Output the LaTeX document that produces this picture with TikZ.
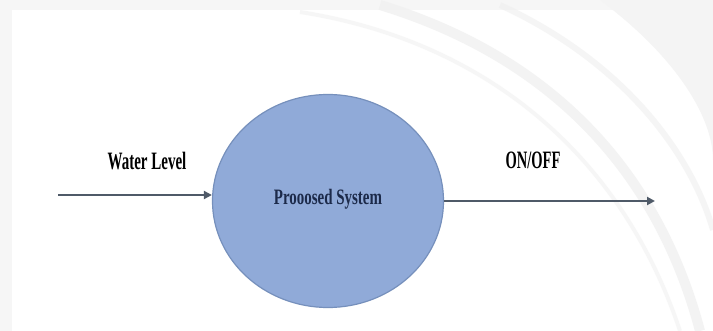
\documentclass[tikz,border=0pt]{standalone}
\usepackage{fontspec}
\setmainfont{Liberation Serif}
\usetikzlibrary{arrows.meta,shapes.geometric}
\definecolor{bgc}{HTML}{F6F6F6}
\definecolor{swoosh}{HTML}{EFEFEF}
\definecolor{ellfill}{HTML}{90AAD8}
\definecolor{elldraw}{HTML}{7690BC}
\definecolor{arrowc}{HTML}{4F5A68}
\definecolor{navy}{HTML}{1C2A4A}
\tikzset{
  procbox/.style={ellipse, draw=elldraw, line width=1.2pt, fill=ellfill, minimum width=231pt, minimum height=213pt, inner sep=0pt},
  flow/.style={draw=arrowc, line width=2.6pt, -{Triangle[length=8pt,width=8pt]}},
  lbl/.style={font=\bfseries\fontsize{25}{25}\selectfont, text=black},
}
\begin{document}
\begin{tikzpicture}[x=1pt,y=-1pt]
\useasboundingbox (0,0) rectangle (713,331);
\fill[bgc] (0,0) rectangle (713,331);
\fill[white] (12,10) rectangle (713,331);
% faint background swooshes
\fill[swoosh!70] (600,0) .. controls (680,60) and (713,120) .. (713,160) -- (713,0) -- cycle;
\draw[swoosh, line width=10pt, opacity=0.7] (380,5) .. controls (560,60) and (660,180) .. (700,331);
\draw[swoosh, line width=6pt, opacity=0.6] (500,5) .. controls (620,60) and (690,150) .. (713,230);
\draw[swoosh, line width=4pt, opacity=0.5] (300,12) .. controls (480,40) and (620,150) .. (680,331);
% nodes
\node[procbox] (sys) at (328,201) {};
\node[font=\bfseries\fontsize{22}{22}\selectfont, text=navy] (syslbl) at (328,199) {\scalebox{0.68}[1]{Prooosed System}};
\coordinate (in) at (58,195);
\coordinate (out) at (655,201);
\draw[flow] (in) -- (in -| sys.west);
\draw[flow] (sys.east) -- (out);
\node[lbl] (wl) at (147,161) {\scalebox{0.6}[1]{Water Level}};
\node[lbl] (onoff) at (533,160) {\scalebox{0.58}[1]{ON/OFF}};
\end{tikzpicture}
\end{document}
